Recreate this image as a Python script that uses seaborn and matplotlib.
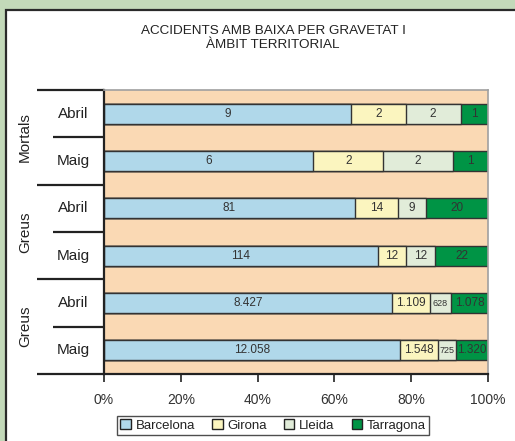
import matplotlib
matplotlib.use("Agg")
import matplotlib.pyplot as plt
from matplotlib.patches import Rectangle, Patch
import numpy as np
import pandas as pd
import seaborn as sns

# ---- data ----
groups = ["Mortals", "Greus", "Greus"]
months = ["Abril", "Maig", "Abril", "Maig", "Abril", "Maig"]
series = ["Barcelona", "Girona", "Lleida", "Tarragona"]
barcelona = [9, 6, 81, 114, 8427, 12058]
girona = [2, 2, 14, 12, 1109, 1548]
lleida = [2, 2, 9, 12, 628, 725]
tarragona = [1, 1, 20, 22, 1078, 1320]
title = "ACCIDENTS AMB BAIXA PER GRAVETAT I\nÀMBIT TERRITORIAL"
xticks = [0, 20, 40, 60, 80, 100]
xticklabels = ["0%", "20%", "40%", "60%", "80%", "100%"]

colors = ["#b0d8ea", "#fbf5bf", "#e1ecd9", "#009445"]
peach = "#fad9b4"
edge = "#333333"

sns.set_theme(style="white")
plt.rcParams["font.family"] = ["Liberation Sans", "DejaVu Sans"]

vals = np.array([barcelona, girona, lleida, tarragona], dtype=float)  # 4 x 6
tot = vals.sum(axis=0)
pct = vals / tot * 100
cum = np.cumsum(pct, axis=0)
rows = [str(i) for i in range(len(months))]

fig = plt.figure(figsize=(5.15, 4.41), dpi=100)
fig.patch.set_facecolor("#c3d9b9")
fig.patches.append(Rectangle((5.5 / 515, -0.05), 1.1, 1 - 9.5 / 441 + 0.05,
                             transform=fig.transFigure, facecolor="white",
                             edgecolor="#2a2a2a", linewidth=1.6, zorder=-10))

ax = fig.add_axes([104 / 515, (441 - 374) / 441, 384 / 515, 284 / 441])
ax.set_zorder(5)
ax.set_facecolor(peach)

# draw cumulative bars from right-most series to left-most
for k in range(3, -1, -1):
    df = pd.DataFrame({"row": rows, "val": cum[k]})
    sns.barplot(data=df, x="val", y="row", order=rows, orient="h",
                width=0.42, color=colors[k], saturation=1, errorbar=None,
                edgecolor=edge, linewidth=1.0, ax=ax)

ax.set_xlim(0, 100)
ax.set_ylim(5.5, -0.5)
ax.set_xlabel("")
ax.set_ylabel("")
ax.set_yticks([])
ax.set_xticks(xticks)
ax.set_xticklabels(xticklabels, fontsize=10, color="#333333")
ax.tick_params(axis="x", bottom=True, direction="out", length=6, width=1.2,
               color="#222222", pad=8)

for s in ["top", "right"]:
    ax.spines[s].set_color("#a0a0a0")
    ax.spines[s].set_linewidth(1.2)
for s in ["left", "bottom"]:
    ax.spines[s].set_color("#222222")
    ax.spines[s].set_linewidth(1.6)

# segment labels
for j in range(len(months)):
    for k in range(4):
        left = cum[k, j] - pct[k, j]
        center = left + pct[k, j] / 2
        seg_px = pct[k, j] * 3.84
        txt = f"{int(vals[k, j]):,}".replace(",", ".")
        fs = 8.5 if seg_px > 24 else 6.5
        ax.text(center, j, txt, ha="center", va="center", fontsize=fs,
                color="#333333", zorder=5)

# left category structure
tr = ax.get_yaxis_transform()
xl_long = (37 - 104) / 384
xl_short = (53 - 104) / 384
for yb in [-0.5, 1.5, 3.5, 5.5]:
    ax.plot([xl_long, 0], [yb, yb], color="#222222", lw=1.6, transform=tr,
            clip_on=False, solid_capstyle="butt")
for yb in [0.5, 2.5, 4.5]:
    ax.plot([xl_short, 0], [yb, yb], color="#222222", lw=1.6, transform=tr,
            clip_on=False, solid_capstyle="butt")
for j, m in enumerate(months):
    ax.text((73 - 104) / 384, j, m, transform=tr, ha="center", va="center",
            fontsize=11, color="#222222")
for g, name in enumerate(groups):
    ax.text((25 - 104) / 384, 2 * g + 0.5, name, transform=tr, ha="center",
            va="center", rotation=90, fontsize=11, color="#222222")

fig.text(273 / 515, 1 - 38 / 441, title, ha="center", va="center",
         fontsize=9.7, color="#222222", linespacing=1.15)

handles = [Patch(facecolor=c, edgecolor="#222222", linewidth=1.0) for c in colors]
leg = fig.legend(handles, series, loc="center", bbox_to_anchor=(273 / 515, 1 - 425.5 / 441),
                 ncol=4, fontsize=9.5, frameon=True, fancybox=False,
                 edgecolor="#222222", borderpad=0.25, handlelength=0.8,
                 handleheight=0.8, handletextpad=0.35, columnspacing=1.3,
                 borderaxespad=0)
leg.get_frame().set_linewidth(1.0)
for t in leg.get_texts():
    t.set_color("#222222")

fig.savefig("out.png", dpi=100, facecolor=fig.get_facecolor())
